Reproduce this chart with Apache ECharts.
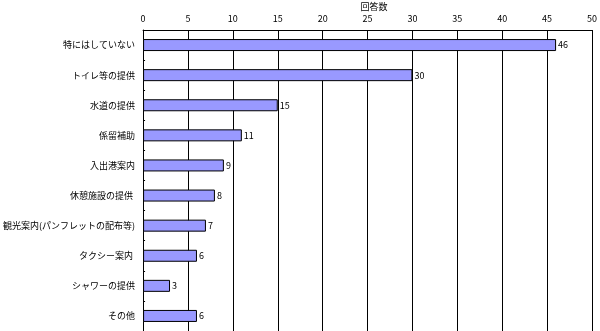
<!DOCTYPE html>
<html><head><meta charset="utf-8">
<script src="https://cdn.jsdelivr.net/npm/echarts@6/dist/echarts.min.js"></script>
<style>html,body{margin:0;padding:0;background:#fff}#c{width:600px;height:331px}</style>
</head><body><div id="c"></div>
<script>
const categories = ['特にはしていない','トイレ等の提供','水道の提供','係留補助','入出港案内','休憩施設の提供 ','観光案内(パンフレットの配布等)','タクシー案内 ','シャワーの提供','その他'];
const values = [46,30,15,11,9,8,7,6,3,6];
const axisTitle = '回答数';
const xMin = 0, xMax = 50, xStep = 5;
const font = '"Noto Sans CJK JP", sans-serif';
const chart = echarts.init(document.getElementById('c'));
chart.setOption({
  animation: false,
  grid: {left: 142, right: 4, top: 30, bottom: 0, containLabel: false},
  title: {text: axisTitle, left: 369, top: -3, textAlign: 'center',
    textStyle: {fontSize: 9, fontWeight: 'normal', color: '#000', fontFamily: font}},
  xAxis: {type: 'value', position: 'top', min: xMin, max: xMax, interval: xStep,
    axisLine: {show: true, lineStyle: {color: '#000', width: 1}},
    axisTick: {show: false},
    axisLabel: {fontSize: 9, color: '#000', fontFamily: font, margin: 7},
    splitLine: {show: true, lineStyle: {color: '#000', width: 1}}},
  yAxis: {type: 'category', inverse: true, data: categories,
    axisLine: {show: true, lineStyle: {color: '#000', width: 1}},
    axisTick: {show: true, inside: true, length: 2, lineStyle: {color: '#000'}},
    axisLabel: {fontSize: 9, color: '#000', fontFamily: font, margin: 8}},
  series: [{type: 'bar', data: values, barWidth: 12,
    itemStyle: {color: '#9999FF', borderColor: '#000', borderWidth: 1},
    label: {show: true, position: 'right', distance: 2, fontSize: 9, color: '#000', fontFamily: font}}]
});
</script></body></html>
